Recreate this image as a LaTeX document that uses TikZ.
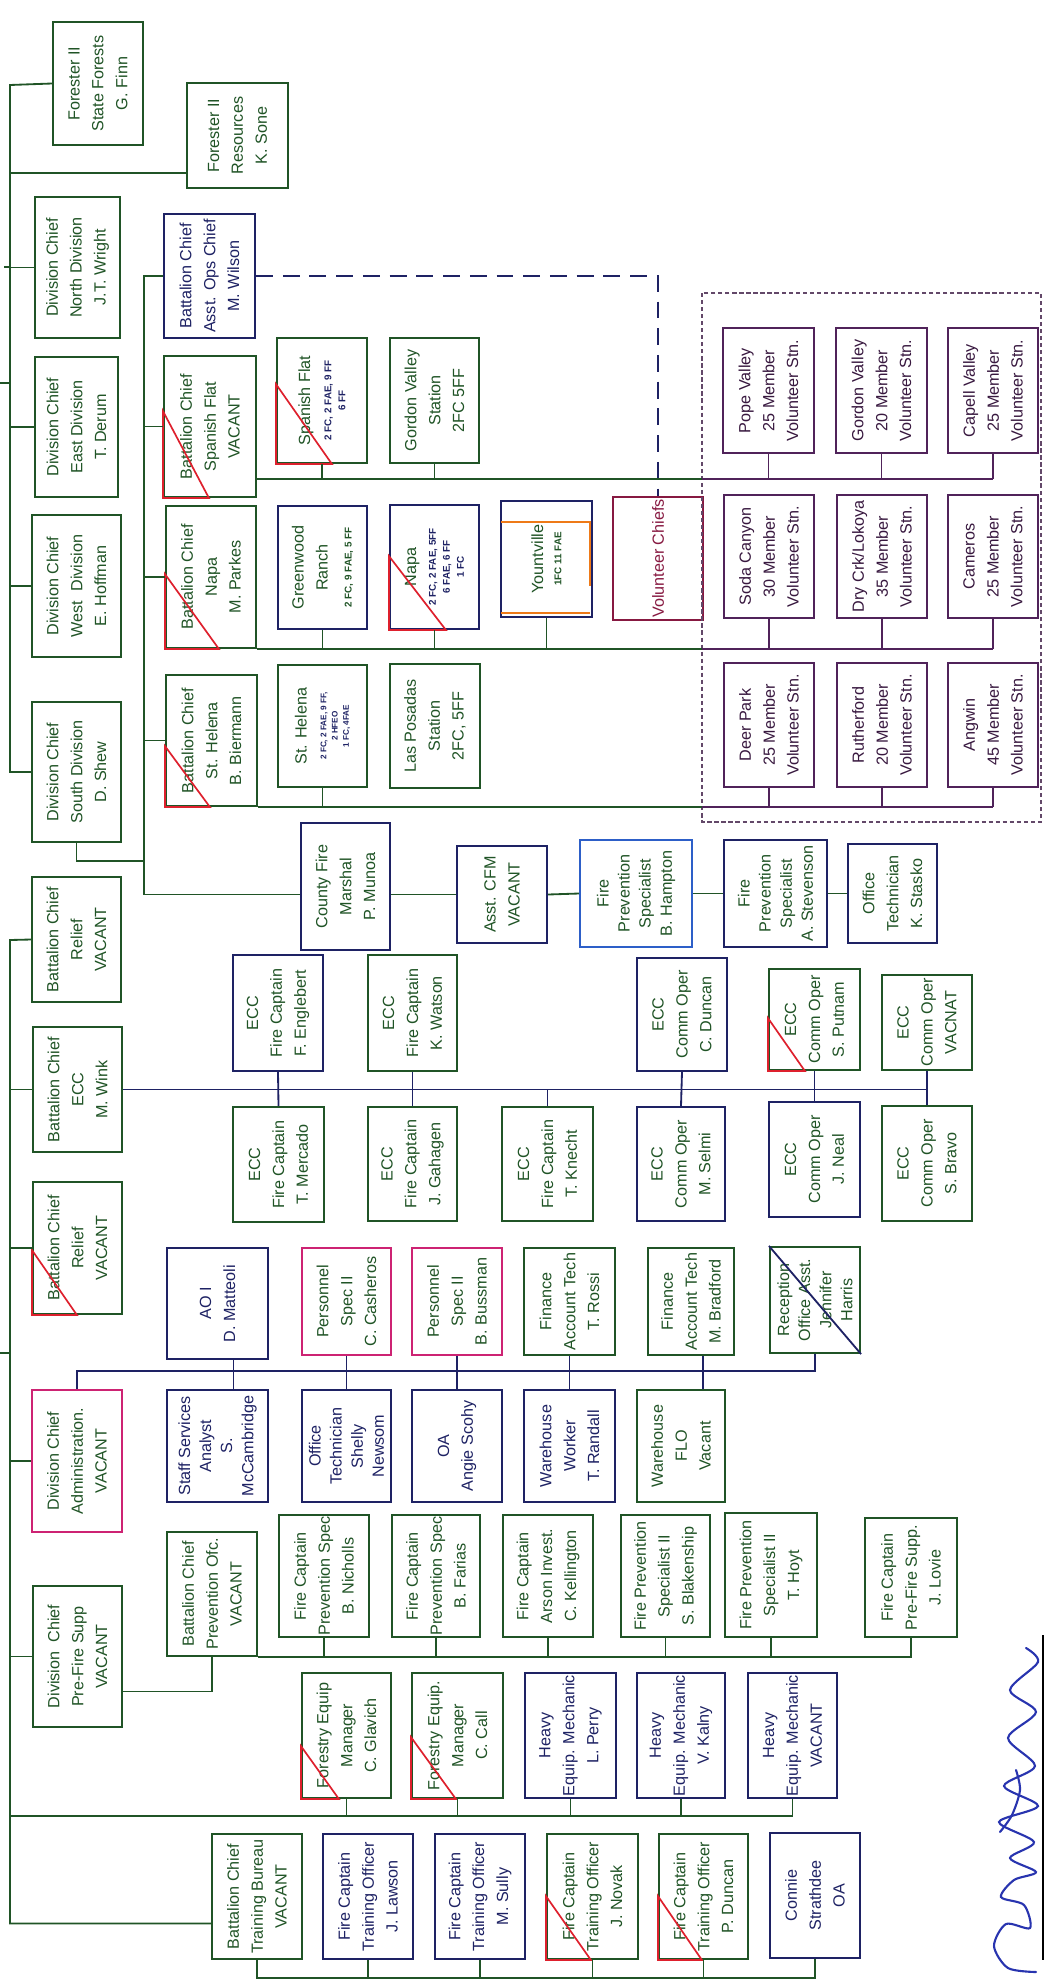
\documentclass[tikz,border=0pt]{standalone}
\usepackage{fontspec}
\setmainfont{Liberation Sans}
\usepackage{tikz}
\usetikzlibrary{calc}
\definecolor{orgGreen}{RGB}{32,84,38}
\definecolor{orgNavy}{RGB}{30,34,100}
\definecolor{orgBlue}{RGB}{45,95,200}
\definecolor{orgMagenta}{RGB}{205,35,115}
\definecolor{orgPurple}{RGB}{80,35,90}
\definecolor{orgMaroon}{RGB}{135,25,65}
\definecolor{orgRed}{RGB}{222,32,45}
\definecolor{orgOrange}{RGB}{238,122,24}
\definecolor{sigBlue}{RGB}{40,52,175}
\newcommand{\boxfont}{\fontsize{11.5}{17}\selectfont}
\newcommand{\tallfont}{\fontsize{11.5}{15}\selectfont}
\newcommand{\crewfont}{\fontsize{7}{9}\selectfont\bfseries}
\newcommand{\tinycrew}{\fontsize{5.8}{7}\selectfont\bfseries}
% box from corner (x1,y1) to (x2,y2), text turned upright
\newcommand{\orgbox}[8]{%
  \node[#2, minimum width={(#6-#4)*0.025cm}, minimum height={(#7-#5)*0.025cm}] (#1) at ({(#4+#6)/2},{(#5+#7)/2}) {};
  \node[boxtext, #3] (#1txt) at (#1.center) {#8};}
% red corner mark on vacant posts
\newcommand{\vacmark}[3]{\draw[vacline] (#1.south west) ++(0,-#2) -- (#1.south west) -- ++(#3,0) -- cycle;}

\begin{document}
\begin{tikzpicture}[x=0.025cm, y=-0.025cm,
    box/.style={draw, line width=1.5pt, inner sep=0pt, fill=white},
    gbox/.style={box, draw=orgGreen},
    nbox/.style={box, draw=orgNavy},
    bbox/.style={box, draw=orgBlue},
    mbox/.style={box, draw=orgMagenta},
    rbox/.style={box, draw=orgMaroon},
    pbox/.style={box, draw=orgPurple},
    boxtext/.style={rotate=90, align=center, inner sep=0pt, font=\boxfont},
    gtxt/.style={text=orgGreen},
    ntxt/.style={text=orgNavy},
    ptxt/.style={text=orgPurple!70!black},
    rtxt/.style={text=orgMaroon},
    link/.style={draw=orgGreen, line width=1.3pt},
    nlink/.style={draw=orgNavy, line width=1.3pt},
    plink/.style={draw=orgPurple, line width=1.3pt},
    vacline/.style={draw=orgRed, line width=1.2pt}]
    \useasboundingbox (0,0) rectangle (1045,1986);

    % Top level posts
    \orgbox{forSF}{gbox}{gtxt}{53}{22}{143}{145}{Forester II\\State Forests\\G. Finn}
    \orgbox{forRes}{gbox}{gtxt}{187}{83}{288}{188}{Forester II\\Resources\\K. Sone}
    \orgbox{dcNorth}{gbox}{gtxt}{35}{197}{120}{338}{Division Chief\\North Division\\J.T. Wright}
    \orgbox{dcEast}{gbox}{gtxt}{35}{357}{118}{497}{Division Chief\\East Division\\T. Derum}
    \orgbox{dcWest}{gbox}{gtxt}{32}{515}{121}{657}{Division Chief\\West\ \ Division\\E. Hoffman}
    \orgbox{dcSouth}{gbox}{gtxt}{32}{702}{121}{842}{Division Chief\\South Division\\D. Shew}
    \orgbox{bcRelief}{gbox}{gtxt}{32}{877}{121}{1002}{Battalion Chief\\Relief\\VACANT}
    \orgbox{bcECC}{gbox}{gtxt}{33}{1027}{122}{1152}{Battalion Chief\\ECC\\M. Wink}
    \orgbox{bcReliefB}{gbox}{gtxt}{33}{1182}{122}{1314}{Battalion Chief\\Relief\\VACANT}
    \orgbox{dcAdmin}{mbox}{gtxt}{32}{1390}{122}{1532}{Division Chief\\Administration.\\VACANT}
    \orgbox{dcPreFire}{gbox}{gtxt}{33}{1586}{122}{1727}{Division\ \ Chief\\Pre-Fire Supp\\VACANT}
    \orgbox{bcTrain}{gbox}{gtxt}{212}{1834}{302}{1959}{Battalion Chief\\Training Bureau\\VACANT}

    % Operations
    \orgbox{bcOps}{nbox}{ntxt}{164}{214}{255}{338}{Battalion Chief\\Asst. Ops Chief\\M. Wilson}
    \orgbox{bcSF}{gbox}{gtxt}{164}{356}{256}{497}{Battalion Chief\\Spanish Flat\\VACANT}
    \orgbox{stSF}{gbox}{gtxt}{277}{338}{367}{463}{Spanish Flat\\[-2pt]{\crewfont\color{orgNavy}2 FC, 2 FAE, 9 FF}\\[-7pt]{\crewfont\color{orgNavy}6 FF}}
    \orgbox{stGV}{gbox}{gtxt}{390}{338}{479}{463}{Gordon Valley\\Station\\2FC 5FF}
    \orgbox{bcNapa}{gbox}{gtxt}{166}{506}{256}{648}{Battalion Chief\\Napa\\M. Parkes}
    \orgbox{stGR}{nbox}{gtxt}{278}{506}{367}{629}{Greenwood\\Ranch\\{\crewfont 2 FC, 9 FAE, 5 FF}}
    \orgbox{stNapa}{nbox}{gtxt}{390}{505}{479}{629}{Napa\\[-3pt]{\crewfont\color{orgNavy}2 FC, 2 FAE, 5FF}\\[-7pt]{\crewfont\color{orgNavy}6 FAE, 6 FF}\\[-7pt]{\crewfont\color{orgNavy}1 FC}}
    \orgbox{stYV}{nbox}{gtxt}{501}{501}{592}{617}{Yountville\\[-4pt]{\crewfont 1FC 11 FAE}}
    \orgbox{volChiefs}{rbox}{rtxt}{613}{497}{703}{620}{Volunteer Chiefs}
    \orgbox{bcStH}{gbox}{gtxt}{166}{675}{257}{806}{Battalion Chief\\St. Helena\\B. Biermann}
    \orgbox{stStH}{gbox}{gtxt}{278}{665}{367}{787}{St. Helena\\[-3pt]{\tinycrew\color{orgNavy}2 FC, 2 FAE, 9 FF,}\\[-9pt]{\tinycrew\color{orgNavy}2 HFEO}\\[-9pt]{\tinycrew\color{orgNavy}1 FC, 4FAE}}
    \orgbox{stLP}{gbox}{gtxt}{390}{664}{480}{788}{Las Posadas\\Station\\2FC, 5FF}

    % Volunteer stations
    \orgbox{vPope}{pbox}{ptxt}{723}{328}{814}{453}{Pope Valley\\25 Member\\Volunteer Stn.}
    \orgbox{vGordon}{pbox}{ptxt}{836}{328}{927}{453}{Gordon Valley\\20 Member\\Volunteer Stn.}
    \orgbox{vCapell}{pbox}{ptxt}{948}{328}{1038}{453}{Capell Valley\\25 Member\\Volunteer Stn.}
    \orgbox{vSoda}{pbox}{ptxt}{724}{495}{814}{618}{Soda Canyon\\30 Member\\Volunteer Stn.}
    \orgbox{vDry}{pbox}{ptxt}{837}{495}{927}{618}{Dry Crk/Lokoya\\35 Member\\Volunteer Stn.}
    \orgbox{vCameros}{pbox}{ptxt}{948}{495}{1038}{618}{Cameros\\25 Member\\Volunteer Stn.}
    \orgbox{vDeer}{pbox}{ptxt}{724}{663}{814}{787}{Deer Park\\25 Member\\Volunteer Stn.}
    \orgbox{vRuth}{pbox}{ptxt}{837}{663}{927}{787}{Rutherford\\20 Member\\Volunteer Stn.}
    \orgbox{vAngwin}{pbox}{ptxt}{948}{663}{1038}{787}{Angwin\\45 Member\\Volunteer Stn.}
    \coordinate (volNW) at (702,293);
    \coordinate (volSE) at (1041,822);
    \draw[orgPurple!60!gray, densely dashed, line width=0.8pt] (volNW) rectangle (volSE);

    % Fire marshal
    \orgbox{cfm}{nbox}{gtxt}{301}{823}{390}{950}{County Fire\\Marshal\\P. Munoa}
    \orgbox{acfm}{nbox}{gtxt}{457}{846}{547}{943}{Asst. CFM\\VACANT}
    \orgbox{fpsH}{bbox}{gtxt,font=\tallfont}{580}{840}{692}{947}{Fire\\Prevention\\Specialist\\B. Hampton}
    \orgbox{fpsS}{nbox}{gtxt,font=\tallfont}{724}{840}{827}{947}{Fire\\Prevention\\Specialist\\A. Stevenson}
    \orgbox{otK}{nbox}{gtxt}{848}{844}{937}{943}{Office\\Technician\\K. Stasko}

    % ECC
    \orgbox{eccFE}{nbox}{gtxt}{233}{955}{323}{1071}{ECC\\Fire Captain\\F. Englebert}
    \orgbox{eccTM}{gbox}{gtxt}{233}{1107}{324}{1222}{ECC\\Fire Captain\\T. Mercado}
    \orgbox{eccKW}{gbox}{gtxt}{368}{955}{457}{1071}{ECC\\Fire Captain\\K. Watson}
    \orgbox{eccJG}{gbox}{gtxt}{368}{1107}{457}{1221}{ECC\\Fire Captain\\J. Gahagen}
    \orgbox{eccTK}{gbox}{gtxt}{502}{1107}{593}{1221}{ECC\\Fire Captain\\T. Knecht}
    \orgbox{eccCD}{nbox}{gtxt}{637}{958}{727}{1071}{ECC\\Comm Oper\\C. Duncan}
    \orgbox{eccMS}{nbox}{gtxt}{637}{1107}{725}{1221}{ECC\\Comm Oper\\M. Selmi}
    \orgbox{eccSP}{gbox}{gtxt}{769}{969}{860}{1070}{ECC\\Comm Oper\\S. Putnam}
    \orgbox{eccJN}{nbox}{gtxt}{769}{1102}{860}{1217}{ECC\\Comm Oper\\J. Neal}
    \orgbox{eccVC}{gbox}{gtxt}{882}{975}{972}{1070}{ECC\\Comm Oper\\VACNAT}
    \orgbox{eccSB}{gbox}{gtxt}{882}{1106}{972}{1221}{ECC\\Comm Oper\\S. Bravo}

    % Administration
    \orgbox{aoDM}{nbox}{ntxt}{167}{1248}{268}{1359}{AO I\\D. Matteoli}
    \orgbox{ssaSM}{nbox}{ntxt,font=\tallfont}{167}{1390}{268}{1502}{Staff Services\\Analyst\\S.\\McCambridge}
    \orgbox{psCC}{mbox}{gtxt}{302}{1248}{391}{1355}{Personnel\\Spec II\\C. Casheros}
    \orgbox{otSN}{nbox}{ntxt,font=\tallfont}{302}{1390}{391}{1502}{Office\\Technician\\Shelly\\Newsom}
    \orgbox{psBB}{mbox}{gtxt}{412}{1248}{502}{1355}{Personnel\\Spec II\\B. Bussman}
    \orgbox{oaAS}{nbox}{ntxt}{412}{1390}{502}{1502}{OA\\Angie Scohy}
    \orgbox{fatTR}{gbox}{gtxt}{524}{1248}{615}{1355}{Finance\\Account Tech\\T. Rossi}
    \orgbox{wwTR}{nbox}{ntxt}{524}{1390}{615}{1502}{Warehouse\\Worker\\T. Randall}
    \orgbox{fatMB}{gbox}{gtxt}{648}{1248}{734}{1355}{Finance\\Account Tech\\M. Bradford}
    \orgbox{wfV}{gbox}{gtxt}{637}{1390}{725}{1502}{Warehouse\\FLO\\Vacant}
    \orgbox{roJH}{gbox}{gtxt,font=\tallfont}{770}{1247}{860}{1353}{Reception\\Office Asst.\\Jennifer\\Harris}

    % Prevention
    \orgbox{bcPrev}{gbox}{gtxt}{167}{1532}{257}{1656}{Battalion Chief\\Prevention Ofc.\\VACANT}
    \orgbox{fcBN}{gbox}{gtxt}{279}{1515}{369}{1637}{Fire Captain\\Prevention Spec\\B. Nicholls}
    \orgbox{fcBF}{gbox}{gtxt}{392}{1515}{480}{1637}{Fire Captain\\Prevention Spec\\B. Farias}
    \orgbox{fcCK}{gbox}{gtxt}{503}{1515}{593}{1637}{Fire Captain\\Arson Invest.\\C. Kellington}
    \orgbox{fpSB}{gbox}{gtxt}{621}{1515}{710}{1637}{Fire Prevention\\Specialist II\\S. Blakenship}
    \orgbox{fpTH}{gbox}{gtxt}{725}{1513}{817}{1637}{Fire Prevention\\Specialist II\\T. Hoyt}
    \orgbox{fcJL}{gbox}{gtxt}{865}{1518}{957}{1637}{Fire Captain\\Pre-Fire Supp.\\J. Lovie}

    % Equipment
    \orgbox{feCG}{gbox}{gtxt}{302}{1673}{391}{1798}{Forestry Equip\\Manager\\C. Glavich}
    \orgbox{feCC}{gbox}{gtxt}{412}{1673}{503}{1798}{Forestry Equip.\\Manager\\C. Call}
    \orgbox{hmLP}{nbox}{ntxt}{525}{1673}{616}{1798}{Heavy\\Equip. Mechanic\\L. Perry}
    \orgbox{hmVK}{nbox}{ntxt}{637}{1673}{725}{1798}{Heavy\\Equip. Mechanic\\V. Kalny}
    \orgbox{hmV}{nbox}{ntxt}{748}{1673}{837}{1798}{Heavy\\Equip. Mechanic\\VACANT}

    % Training
    \orgbox{toJL}{nbox}{ntxt}{323}{1834}{413}{1959}{Fire Captain\\Training Officer\\J. Lawson}
    \orgbox{toMS}{nbox}{ntxt}{435}{1834}{525}{1959}{Fire Captain\\Training Officer\\M. Sully}
    \orgbox{toJN}{gbox}{gtxt}{547}{1834}{638}{1959}{Fire Captain\\Training Officer\\J. Novak}
    \orgbox{toPD}{gbox}{gtxt}{659}{1834}{748}{1959}{Fire Captain\\Training Officer\\P. Duncan}
    \orgbox{oaCS}{nbox}{ntxt}{770}{1833}{860}{1958}{Connie\\Strathdee\\OA}

    % Vacant marks
    \vacmark{bcSF}{87}{46}
    \vacmark{stSF}{80}{56}
    \vacmark{bcNapa}{75}{54}
    \vacmark{stNapa}{74}{57}
    \vacmark{bcStH}{61}{45}
    \vacmark{bcReliefB}{65}{45}
    \vacmark{eccSP}{53}{37}
    \vacmark{feCG}{53}{38}
    \vacmark{feCC}{62}{45}
    \vacmark{toJN}{64}{45}
    \vacmark{toPD}{64}{44}
    \draw[nlink] (roJH.north west) -- (roJH.south east);
    \draw[orgOrange, line width=1.2pt] ($(stYV.north west)+(1,22)$) -- ($(stYV.north east)+(-3,22)$) -- ($(stYV.north east)+(-3,86)$);
    \draw[orgOrange, line width=1.2pt] ($(stYV.south west)+(1,-5)$) -- ($(stYV.south east)+(-3,-5)$);

    % Upper trunk
    \coordinate (upTrunk) at (10,85);
    \draw[link] (forSF.west) -- (upTrunk) |- (dcSouth.west);
    \coordinate (resIn) at ($(forRes.south west)+(0,-16)$);
    \draw[link] (resIn) -- (resIn -| upTrunk);
    \foreach \n in {dcNorth,dcEast,dcWest}
        \draw[link] (\n.west) -- (\n.west -| upTrunk);
    \coordinate (tickA) at (4,267);
    \coordinate (tickB) at (0,383);
    \draw[link] (tickA) -- (tickA -| upTrunk);
    \draw[link] (tickB) -- (tickB -| upTrunk);

    % Operations line
    \coordinate (opsTop) at (144,276);
    \coordinate (cfmIn) at (cfm.west |- acfm.west);
    \draw[link] (bcOps.west) -- (opsTop) |- (cfmIn);
    \foreach \n in {bcSF,bcNapa,bcStH}
        \draw[link] (\n.west) -- (\n.west -| opsTop);
    \coordinate (southJoin) at ($(dcSouth.south)+(0,18)$);
    \draw[link] (dcSouth.south) -- (southJoin) -- (southJoin -| opsTop);
    \draw[nlink, dash pattern=on 12pt off 7pt] (bcOps.east) -| (volChiefs.north);

    % Station rows
    \coordinate (busA) at ($(bcSF.south east)+(0,-19)$);
    \coordinate (busB) at (bcNapa.south east);
    \coordinate (busC) at (bcStH.south east);
    \foreach \b/\s in {busA/vCapell,busB/vCameros,busC/vAngwin} {
        \draw[link] (\b) -- (\b -| volNW);
        \draw[plink] (\b -| volNW) -- (\b -| \s.south);
    }
    \foreach \n in {stSF,stGV}
        \draw[link] (\n.south) -- (\n.south |- busA);
    \foreach \n in {stGR,stNapa,stYV}
        \draw[link] (\n.south) -- (\n.south |- busB);
    \draw[link] (stStH.south) -- (stStH.south |- busC);
    \foreach \n in {vPope,vGordon,vCapell}
        \draw[plink] (\n.south) -- (\n.south |- busA);
    \foreach \n in {vSoda,vDry,vCameros}
        \draw[plink] (\n.south) -- (\n.south |- busB);
    \foreach \n in {vDeer,vRuth,vAngwin}
        \draw[plink] (\n.south) -- (\n.south |- busC);

    % Fire marshal chain
    \draw[link] (cfm.east |- acfm.west) -- (acfm.west);
    \draw[link] (acfm.east) -- (fpsH.west);
    \draw[link] (fpsH.east) -- (fpsS.west);
    \draw[link] (fpsS.east) -- (otK.west);

    % Lower trunk
    \coordinate (loTrunk) at (10,940);
    \coordinate (trainIn) at ($(bcTrain.west)+(0,27)$);
    \draw[link] (bcRelief.west) -- (loTrunk) |- (trainIn);
    \foreach \n in {bcECC,bcReliefB,dcAdmin,dcPreFire}
        \draw[link] (\n.west) -- (\n.west -| loTrunk);
    \coordinate (tickC) at (0,1353);
    \draw[link] (tickC) -- (tickC -| loTrunk);

    % ECC line
    \draw[nlink] (bcECC.east) -- (bcECC.east -| eccVC.south);
    \foreach \a/\b in {eccFE/eccTM,eccKW/eccJG,eccCD/eccMS,eccSP/eccJN,eccVC/eccSB}
        \draw[nlink] (\a.south) -- (\b.north);
    \draw[nlink] (eccTK.north) -- (eccTK.north |- bcECC.east);

    % Administration line
    \coordinate (admBus) at ($(dcAdmin.north)+(0,-18)$);
    \draw[nlink] (dcAdmin.north) -- (admBus) -| (roJH.south);
    \draw[nlink] ($(aoDM.south)+(16,0)$) -- ($(ssaSM.north)+(16,0)$);
    \foreach \a/\b in {psCC/otSN,psBB/oaAS,fatTR/wwTR}
        \draw[nlink] (\a.south) -- (\b.north);
    \draw[nlink] ($(fatMB.south)+(12,0)$) -- ($(wfV.north)+(22,0)$);

    % Prevention line
    \coordinate (preIn) at ($(dcPreFire.east)+(0,35)$);
    \draw[link] (preIn) -| (bcPrev.south);
    \draw[link] (bcPrev.south east) -| (fcJL.south);
    \foreach \n in {fcBN,fcBF,fcCK,fpSB,fpTH}
        \draw[link] (\n.south) -- (\n.south |- bcPrev.south);

    % Equipment line
    \coordinate (equipBus) at (10,1816);
    \draw[link] (equipBus) -| (hmV.south);
    \foreach \n in {feCG,feCC,hmLP,hmVK}
        \draw[link] (\n.south) -- (\n.south |- equipBus);

    % Training line
    \coordinate (trainBus) at ($(bcTrain.south)+(0,18)$);
    \draw[link] (bcTrain.south) -- (trainBus) -| (oaCS.south);
    \foreach \n in {toJL,toMS,toJN,toPD}
        \draw[link] (\n.south) -- (\n.south |- trainBus);

    % Signature
    \draw[line width=1.8pt] (1043,1635) -- (1043,1960);
    \draw[sigBlue, line width=1.5pt, line cap=round] plot[smooth] coordinates {(1036,1972) (1008,1968) (994,1946) (1006,1924) (1030,1928) (1024,1905) (1001,1897) (1014,1880) (1036,1872) (1010,1858) (1034,1842) (999,1822) (1038,1806) (1004,1786) (1035,1766) (1008,1738) (1036,1712) (1010,1690) (1038,1662) (1026,1648)};
    \draw[sigBlue, line width=1.5pt, line cap=round] plot[smooth] coordinates {(1000,1832) (1012,1815) (1020,1790) (1016,1770)};
\end{tikzpicture}
\end{document}
